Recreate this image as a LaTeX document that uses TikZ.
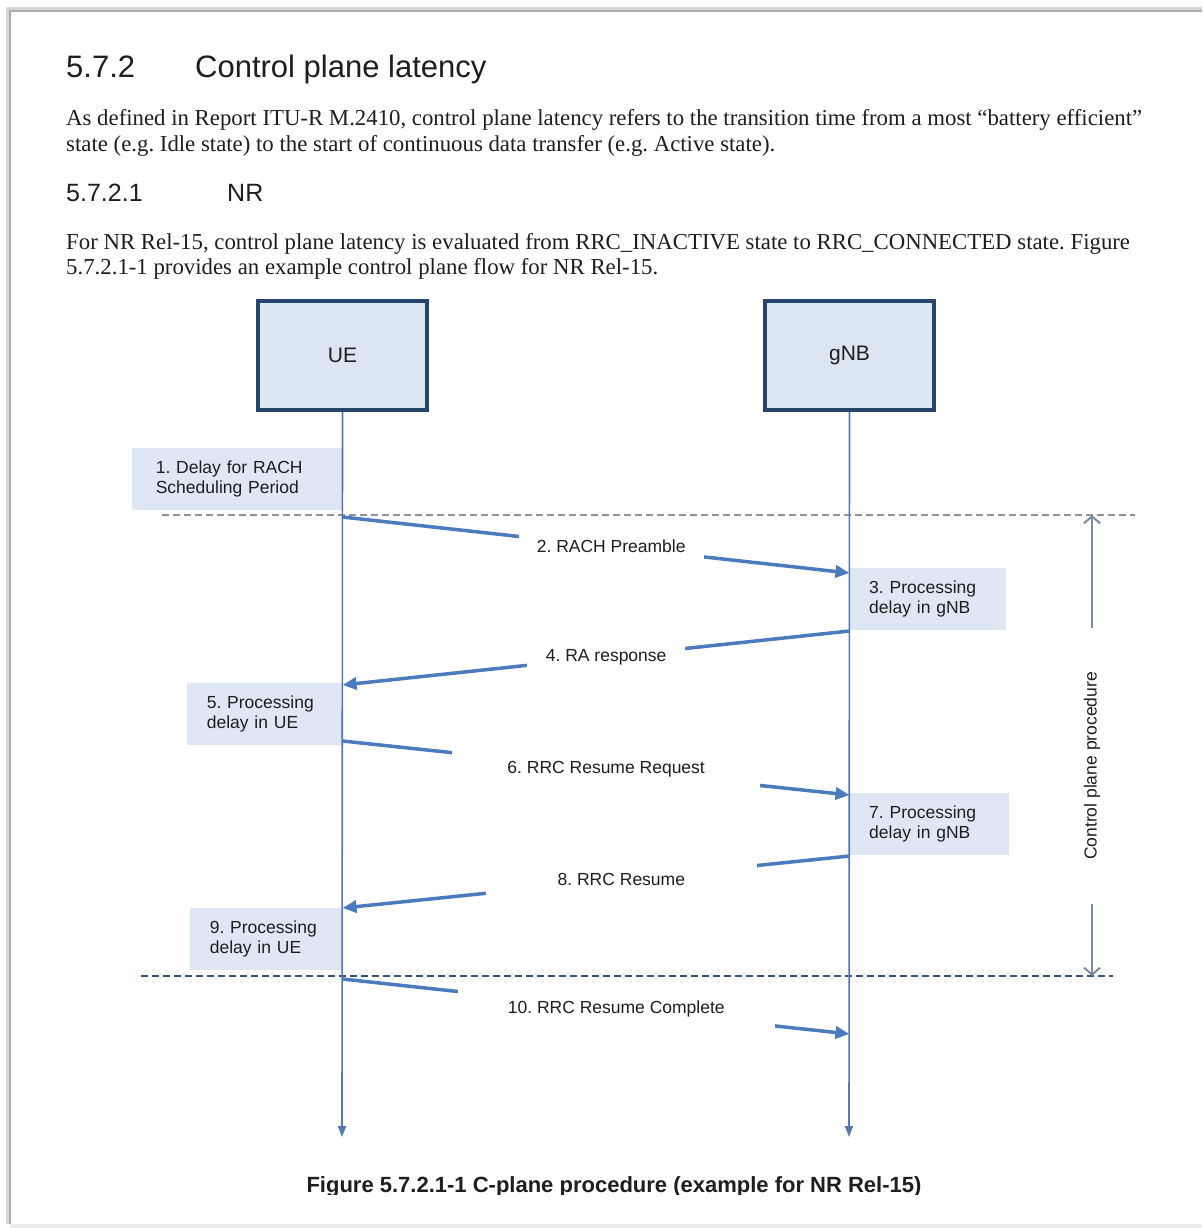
\documentclass[tikz,border=0pt]{standalone}
\usepackage{fontspec}
\setmainfont{Liberation Serif}
\setsansfont{Liberation Sans}
\usetikzlibrary{arrows.meta}
\frenchspacing
\hyphenpenalty=10000

\definecolor{boxfill}{HTML}{DCE6F2}
\definecolor{boxline}{HTML}{26456B}
\definecolor{lifeblue}{HTML}{5479B0}
\definecolor{msgblue}{HTML}{4A7CBD}
\definecolor{delayfill}{HTML}{DEE7F3}
\definecolor{dashgray}{HTML}{8C939C}
\definecolor{dashnavy}{HTML}{34537D}
\definecolor{spangray}{HTML}{7A8BA1}
\definecolor{pageedge}{HTML}{AEAEAE}
\definecolor{ink}{HTML}{1E1E1E}

\newcommand{\txtsize}[1]{\fontsize{#1}{#1}\selectfont}

\begin{document}
\begin{tikzpicture}[x=1pt,y=-1pt,
	actor/.style={draw=boxline, line width=4pt, fill=boxfill, minimum width=169pt, minimum height=109pt, font=\sffamily\txtsize{21}, text=ink},
	delay/.style={fill=delayfill, inner xsep=20pt, inner ysep=0pt, minimum height=62pt, align=left, font=\sffamily\fontsize{17.5}{19.5}\selectfont, text=ink},
	life/.style={draw=lifeblue, line width=1.6pt, -{Triangle[length=11pt,width=8pt]}},
	msg/.style={draw=msgblue, line width=3.5pt, -{Triangle[length=14pt,width=12pt]}},
	msglabel/.style={fill=white, inner ysep=12pt, font=\sffamily\txtsize{17.5}, text=ink},
	phaseline/.style={draw=dashgray, line width=2.5pt, dash pattern=on 7pt off 4pt},
	span/.style={draw=spangray, line width=2pt, -{Straight Barb[length=7pt,width=16pt]}},
	heading/.style={anchor=base west, inner sep=0pt, font=\sffamily\txtsize{31}, text=ink},
	body/.style={anchor=base west, inner sep=0pt, font=\txtsize{22.8}, text=ink}]

	\useasboundingbox (0,0) rectangle (1202,1228);

	% page
	\fill[white] (0,0) rectangle (1202,1228);
	\draw[pageedge!50, line width=4pt] (8,1224) -- (8,9) -- (1202,9);
	\draw[pageedge, line width=1.5pt] (10,1224) -- (10,11) -- (1202,11);
	\fill[black!7] (10,1224) rectangle (1202,1228);

	% text above the figure
	\node[heading] (secnum) at (66,78) {5.7.2};
	\node[heading] (sectitle) at (195,78) {Control plane latency};
	\node[body] (intro1) at (66,126) {As defined in Report ITU-R M.2410, control plane latency refers to the transition time from a most “battery efficient”};
	\node[body] (intro2) at (66,151) {state (e.g. Idle state) to the start of continuous data transfer (e.g. Active state).};
	\node[heading, font=\sffamily\txtsize{25}] (subnum) at (66,201) {5.7.2.1};
	\node[heading, font=\sffamily\txtsize{25}] (subtitle) at (227,201) {NR};
	\node[body] (nr1) at (66,249) {For NR Rel-15, control plane latency is evaluated from RRC\_INACTIVE state to RRC\_CONNECTED state. Figure};
	\node[body] (nr2) at (66,274) {5.7.2.1-1 provides an example control plane flow for NR Rel-15.};

	% entities
	\node[actor] (UE) at (342.5,355.5) {UE};
	\node[actor] (gNB) at (849.5,355.5) {gNB};
	\coordinate (UEend) at (342,1137);
	\coordinate (gNBend) at (849,1137);

	% delays
	\node[delay, inner xsep=24pt, text width=162pt, anchor=north east] (d1) at (342,448) {1. Delay for RACH\\Scheduling Period};
	\node[delay, text width=117pt, anchor=north west] (d3) at (849,568) {3. Processing\\delay in gNB};
	\node[delay, text width=115pt, anchor=north east] (d5) at (342,683) {5. Processing\\delay in UE};
	\node[delay, text width=120pt, anchor=north west] (d7) at (849,793) {7. Processing\\delay in gNB};
	\node[delay, text width=112pt, anchor=north east] (d9) at (342,908) {9. Processing\\delay in UE};

	% phase borders
	\coordinate (ph1a) at (162,515);
	\coordinate (ph1b) at (1135,515);
	\coordinate (ph2a) at (141,976);
	\coordinate (ph2b) at (1113,976);
	\draw[phaseline] (ph1a) -- (ph1b);
	\draw[phaseline, draw=dashnavy, line width=2pt] (ph2a) -- (ph2b);

	% lifelines
	\draw[life] (UE.south) -- (UEend);
	\draw[life] (gNB.south) -- (gNBend);

	% messages
	\draw[msg] (UE |- 0,517) -- node[msglabel, pos=0.53, inner xsep=18pt] (m2) {2. RACH Preamble} (gNB |- 0,573);
	\draw[msg] (gNB |- 0,631) -- node[msglabel, pos=0.48, inner xsep=19pt] (m4) {4. RA response} (UE |- 0,685);
	\draw[msg] (UE |- 0,741) -- node[msglabel, pos=0.52, inner xsep=55pt] (m6) {6. RRC Resume Request} (gNB |- 0,795);
	\draw[msg] (gNB |- 0,856) -- node[msglabel, pos=0.45, inner xsep=72pt] (m8) {8. RRC Resume} (UE |- 0,908);
	\draw[msg] (UE |- 0,979) -- node[msglabel, pos=0.54, inner xsep=50pt] (m10) {10. RRC Resume Complete} (gNB |- 0,1034);

	% control plane span
	\node[rotate=90, inner xsep=44pt, inner ysep=0pt, font=\sffamily\txtsize{17.5}, text=ink] (cpp) at (1092,766) {Control plane procedure};
	\coordinate (spantop) at (1092,515);
	\coordinate (spanbot) at (1092,976);
	\draw[span] (cpp.east) -- (spantop);
	\draw[span] (cpp.west) -- (spanbot);

	% caption, cut at the bottom as in the screenshot
	\begin{scope}
		\clip (0,1150) rectangle (1202,1194);
		\node[anchor=base, inner sep=0pt, font=\sffamily\bfseries\txtsize{22}, text=ink] (caption) at (614,1192) {Figure 5.7.2.1-1 C-plane procedure (example for NR Rel-15)};
	\end{scope}

\end{tikzpicture}
\end{document}
